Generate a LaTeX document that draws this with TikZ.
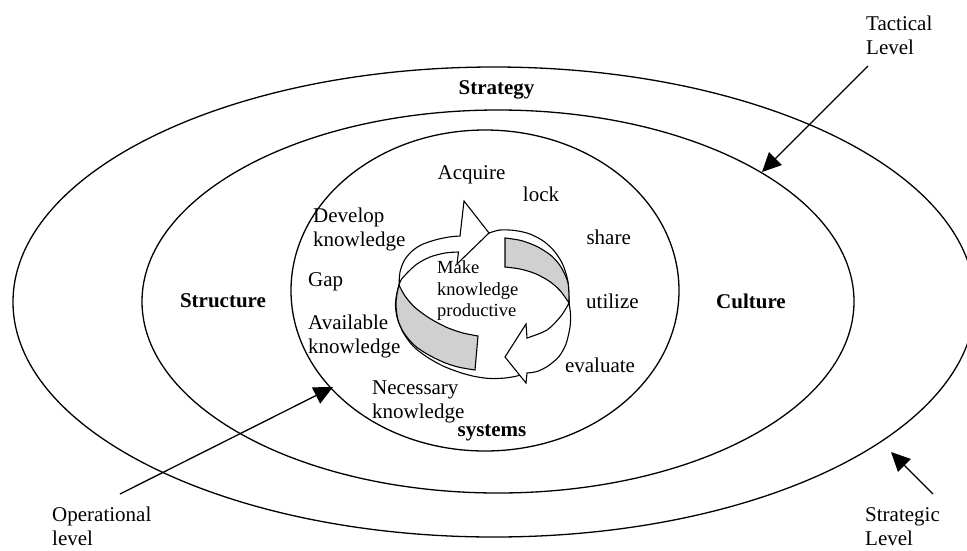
\documentclass[tikz,border=0pt]{standalone}
\usepackage{fontspec}
\setmainfont{Liberation Serif}
\usetikzlibrary{arrows.meta}
\definecolor{bandgray}{RGB}{208,208,208}
\begin{document}
\begin{tikzpicture}[x=1pt,y=-1pt,
  ring/.style={draw, line width=1.3pt},
  band/.style={draw, line width=1.1pt, line join=miter},
  ptr/.style={-{Triangle[length=19pt,width=18pt]}, line width=1.3pt},
  lbl/.style={font=\fontsize{21}{24.2}\selectfont, inner sep=0pt, align=left},
  boldlbl/.style={font=\fontsize{21}{24.2}\selectfont\bfseries, inner sep=0pt},
  midlbl/.style={font=\fontsize{18.5}{21.6}\selectfont, inner sep=0pt, align=left}]
\path[use as bounding box] (0,0) rectangle (967,550);

% three level ellipses
\draw[ring] (494,302) ellipse [x radius=481pt, y radius=235pt];
\draw[ring] (498,301.5) ellipse [x radius=356pt, y radius=191.5pt];
\draw[ring] (485,290.5) ellipse [x radius=194pt, y radius=160.5pt];

% central cycle: outlines
\draw[band] plot[smooth] coordinates {(489,233) (500,230) (515,230.5) (530,234) (544,241.5) (555,252) (563,265) (568,282) (569,303)};
\draw[band] plot[smooth] coordinates {(399,285) (396.5,295) (395.5,306) (397.5,319) (403.5,333) (413,346) (427,357) (443,366) (460,372.5) (475,376.5) (490,378.5) (505,378) (517,376) (527,373)};

% gray back bands
\filldraw[band, fill=bandgray] (505,238) -- (505,267)
  -- plot[smooth] coordinates {(505,267) (520,269) (535,273.5) (549,281) (560,290.5) (569,303)}
  -- plot[smooth] coordinates {(569,303) (568,283) (561,267) (551,255.5) (537,246.5) (521,240.5) (505,238)} -- cycle;
\filldraw[band, fill=bandgray] (399,285)
  -- plot[smooth] coordinates {(399,285) (405,296) (415,307.5) (430,318.5) (447,327.5) (463,333) (478,336)}
  -- (475,370)
  -- plot[smooth] coordinates {(475,370) (458,367) (443,362) (427,354) (414,345) (404,333) (398,320) (396,305) (397,294) (399,285)} -- cycle;

% white arrow bands
\filldraw[band, fill=white] (399,285)
  -- plot[smooth] coordinates {(399,285) (400,272) (404,261) (411,252) (421,245) (435,240) (449,237) (460,236)}
  -- (464,201) -- (489,233) -- (457,264) -- (458.5,252)
  -- plot[smooth] coordinates {(458.5,252) (445,253) (430,257) (417,264) (407,273) (401,280) (399,285)} -- cycle;
\filldraw[band, fill=white] (569,303)
  -- plot[smooth] coordinates {(569,303) (561,316) (547,330) (527,338)}
  -- (526,324) -- (505,357) -- (526,383) -- (527,373)
  -- plot[smooth] coordinates {(527,373) (537,371.5) (548,366) (559,356.5) (566,344) (570,327) (570.5,314) (569,303)} -- cycle;

% labels
\node[boldlbl] (strategy) at (496.5,89.5) {Strategy};
\node[boldlbl] (structure) at (223,301) {Structure};
\node[boldlbl] (culture) at (751,301) {Culture};
\node[boldlbl] (systems) at (492,433) {systems};

\node[lbl] (acquire) at (471.5,175) {Acquire};
\node[lbl] (lock) at (541,194.5) {lock};
\node[lbl, anchor=west] (develop) at (313,229.2) {Develop\\knowledge};
\node[lbl] (gap) at (325.6,281.7) {Gap};
\node[lbl, anchor=west] (avail) at (308,336.6) {Available\\knowledge};
\node[lbl, anchor=west] (necess) at (372,401.8) {Necessary\\knowledge};
\node[lbl] (share) at (608.7,237.4) {share};
\node[lbl] (utilize) at (612.4,301) {utilize};
\node[lbl] (evaluate) at (600,365.4) {evaluate};
\node[midlbl, anchor=west] (make) at (437,290.9) {Make\\knowledge\\productive};

\node[lbl, anchor=west] (tactical) at (866,35) {Tactical\\Level};
\node[lbl, anchor=west] (strategic) at (865,526.5) {Strategic\\Level};
\node[lbl, anchor=west] (operational) at (52,526.5) {Operational\\level};

% pointer arrows
\coordinate (tacTail) at (868,66);
\coordinate (tacTip) at (762,172);
\coordinate (strTail) at (933,494);
\coordinate (strTip) at (891,452);
\coordinate (opTail) at (120,494);
\coordinate (opTip) at (333,387);
\draw[ptr] (tacTail) -- (tacTip);
\draw[ptr] (strTail) -- (strTip);
\draw[ptr] (opTail) -- (opTip);
\end{tikzpicture}
\end{document}
